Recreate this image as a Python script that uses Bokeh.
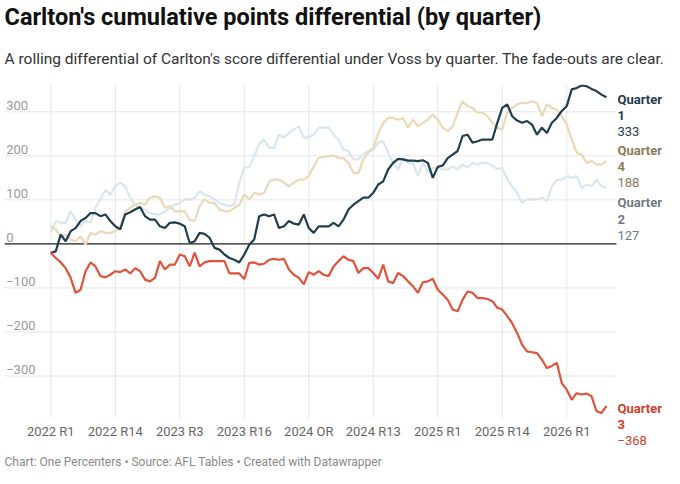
from bokeh.plotting import figure
from bokeh.models import Title, Label
from bokeh.embed import file_html
from bokeh.resources import INLINE

tick_labels = ["2022 R1", "2022 R14", "2023 R3", "2023 R16", "2024 OR", "2024 R13", "2025 R1", "2025 R14", "2026 R1"]
tick_pos = [0, 13, 26, 39, 52, 65, 78, 91, 104]
y_ticks = [-300, -200, -100, 0, 100, 200, 300]

q1 = [-20,-17,21,6,29,36,52,59,70,70,63,67,52,40,33,67,72,78,84,63,55,55,40,36,48,49,46,40,2,6,
      25,23,14,-9,-13,-24,-32,-36,-42,-24,-2,10,63,67,63,67,36,40,52,46,44,67,36,25,40,40,40,48,40,55,
      78,89,97,105,105,116,135,142,169,184,193,192,189,189,188,190,184,150,175,178,195,203,211,245,248,230,233,237,237,237,
      275,309,317,290,280,275,279,271,248,264,252,275,286,302,313,351,354,360,358,352,347,339,333]
q2 = [25,52,48,48,74,55,40,52,48,82,101,123,112,131,139,131,105,89,82,78,70,67,67,74,82,89,93,101,101,105,
      120,112,108,101,93,89,86,89,139,173,175,199,226,237,218,218,248,242,252,260,267,242,242,248,264,264,264,248,237,214,
      211,192,192,203,211,214,230,233,207,184,169,195,184,184,154,184,161,173,173,169,169,176,169,180,173,184,180,184,184,178,
      170,173,146,131,116,93,101,101,101,105,97,131,146,146,154,150,154,127,135,131,146,131,127]
q3 = [-20,-32,-42,-55,-77,-111,-104,-62,-42,-51,-73,-76,-70,-62,-64,-58,-67,-55,-62,-81,-85,-77,-39,-58,-47,-47,-24,-28,-51,-20,
      -51,-42,-39,-39,-39,-39,-67,-67,-67,-80,-43,-42,-47,-45,-36,-34,-36,-34,-58,-70,-77,-92,-64,-70,-62,-70,-73,-51,-39,-28,
      -36,-39,-66,-55,-55,-66,-79,-47,-85,-89,-66,-73,-85,-96,-111,-87,-85,-79,-104,-115,-127,-149,-153,-127,-108,-111,-123,-123,-125,-130,
      -145,-149,-164,-180,-202,-229,-244,-246,-248,-263,-282,-277,-270,-316,-331,-354,-339,-342,-340,-346,-380,-384,-368]
q4 = [40,33,17,21,10,6,17,-2,25,21,29,25,25,29,40,74,82,89,93,89,105,108,105,82,86,74,74,74,55,52,
      86,101,93,93,78,74,74,82,89,112,101,116,112,116,142,146,146,139,131,139,146,146,154,176,195,198,199,201,195,195,
      184,161,161,192,207,218,252,275,286,286,282,286,264,282,267,275,282,294,282,264,256,267,298,324,313,309,298,298,290,275,
      264,260,298,309,317,320,320,324,320,290,317,309,305,290,271,237,207,203,184,188,180,180,188]

series = [("Quarter\n1", q1, "#1f3d4d", "#1f3d4d", 346, 265),
          ("Quarter\n2", q2, "#d9e6f0", "#6f7b85", 110, 29),
          ("Quarter\n3", q3, "#e0523a", "#d0402a", -356, -437),
          ("Quarter\n4", q4, "#ead8b8", "#8f7b5a", 230, 149)]

FONT = "Roboto"
p = figure(frame_width=660, frame_height=362, output_backend="svg", toolbar_location=None,
           x_range=(-9.33, 123.7), y_range=(-460, 362),
           min_border_left=4, min_border_right=0, min_border_top=5, min_border_bottom=2)
p.outline_line_color = None
p.title.visible = False
p.axis.visible = False
p.grid.visible = False

n = len(y_ticks)
p.segment(x0=tick_pos, x1=tick_pos, y0=[-395] * len(tick_pos), y1=[362] * len(tick_pos),
          line_color="#e6e6e6", line_width=1)
p.segment(x0=[-9.33] * n, x1=[114] * n, y0=y_ticks, y1=y_ticks, line_color="#e6e6e6", line_width=1)
p.segment(x0=[-9.33], x1=[114], y0=[0], y1=[0], line_color="#222222", line_width=1.2)
p.text(x=[-9.0] * n, y=y_ticks, text=[str(v).replace("-", "−") for v in y_ticks],
       text_font_size="13px", text_color="#9a9a9a", text_baseline="bottom",
       text_font={"value": FONT}, y_offset=-2)
p.text(x=tick_pos, y=[-395] * len(tick_pos), text=tick_labels, text_align="center",
       text_baseline="top", y_offset=6, text_font_size="13px", text_color="#666666",
       text_font={"value": FONT})

xs = list(range(len(q1)))
for name, vals, col, lcol, ly, vy in [series[1], series[3], series[0], series[2]]:
    p.line(xs, vals, line_color=col, line_width=2.2)
for name, vals, col, lcol, ly, vy in series:
    p.add_layout(Label(x=len(vals) - 1, y=ly, x_offset=11, text=name, text_color=lcol,
                       text_font=FONT, text_font_style="bold", text_font_size="13px",
                       text_baseline="top", text_line_height=1.1))
    p.add_layout(Label(x=len(vals) - 1, y=vy, x_offset=11, text=str(vals[-1]).replace("-", "−"),
                       text_color=lcol, text_font=FONT, text_font_size="13px", text_baseline="top"))

p.add_layout(Title(text="Chart: One Percenters • Source: AFL Tables • Created with Datawrapper",
                   text_font=FONT, text_font_size="12px", text_color="#888888",
                   text_font_style="normal", offset=0, standoff=12), "below")
p.add_layout(Title(text="A rolling differential of Carlton's score differential under Voss by quarter. The fade-outs are clear.",
                   text_font=FONT, text_font_size="15.5px", text_color="#333333",
                   text_font_style="normal", offset=0, standoff=33), "above")
p.add_layout(Title(text="Carlton's cumulative points differential (by quarter)",
                   text_font=FONT, text_font_size="23.5px", text_color="#111111",
                   text_font_style="bold", offset=0, standoff=1), "above")

open("out.html", "w").write(file_html(p, INLINE))
